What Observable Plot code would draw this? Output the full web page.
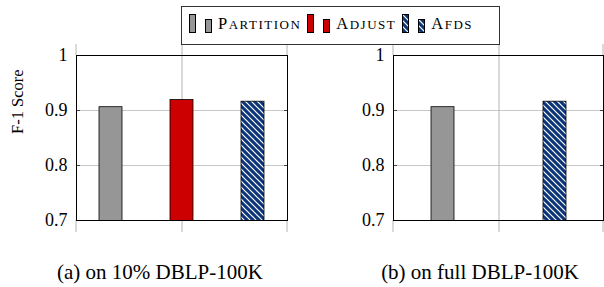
<!DOCTYPE html>
<html><head><meta charset="utf-8">
<script src="https://cdn.jsdelivr.net/npm/d3@7"></script>
<script src="https://cdn.jsdelivr.net/npm/@observablehq/plot@0.6"></script>
<style>
body{margin:0;background:#fff;}
#wrap{position:relative;width:604px;height:287px;overflow:hidden;font-family:"Liberation Serif",serif;background:#fff;}
.panel{position:absolute;top:0;}
#legend{position:absolute;left:181px;top:6px;width:319px;height:39px;box-sizing:border-box;border:1px solid #333;background:#fff;z-index:2;display:flex;align-items:flex-end;padding:0 0 11px 7px;}
.sw{display:block;margin-right:9px;}
.lab{font-family:"Liberation Serif",serif;line-height:16px;letter-spacing:1.5px;margin-right:6px;color:#000;white-space:nowrap;}
.lab .big{font-size:16.5px;}
.lab .small{font-size:13px;}
.cap{position:absolute;top:262px;width:320px;text-align:center;font-family:"Liberation Serif",serif;font-size:21px;line-height:21px;color:#000;}
</style></head><body>
<svg width="0" height="0" style="position:absolute"><defs>
<pattern id="afds" patternUnits="userSpaceOnUse" width="6" height="6">
<rect width="6" height="6" fill="#0b3479"/>
<path d="M-1,-1 L7,7 M-1,5 L1,7 M5,-1 L7,1" stroke="#fff" stroke-width="1.2"/>
</pattern></defs></svg>
<div id="wrap"></div>
<script>
const methods = ["Partition", "Adjust", "Afds"];
const valuesA = [0.906, 0.919, 0.916];
const valuesB = [0.906, null, 0.916];
const yTicks = [0.7, 0.8, 0.9, 1];
const fills = ["#969696", "#cc0000", "url(#afds)"];
const yLabel = "F-1 Score";
const captions = ["(a) on 10% DBLP-100K", "(b) on full DBLP-100K"];

const wrap = document.getElementById("wrap");

function edgeLines(index, scales, values, dims) {
  const g = d3.create("svg:g").attr("stroke", "#b4b4b4");
  for (const x of [dims.marginLeft, dims.width - dims.marginRight]) {
    g.append("line").attr("x1", x).attr("x2", x).attr("y1", dims.marginTop - 11).attr("y2", dims.marginTop);
    g.append("line").attr("x1", x).attr("x2", x).attr("y1", dims.height - dims.marginBottom).attr("y2", dims.height - dims.marginBottom + 12);
  }
  return g.node();
}

function panel(values, opts) {
  const data = methods.map((m, i) => ({method: m, value: values[i]})).filter(d => d.value != null);
  return Plot.plot({
    width: opts.width, height: 245,
    marginTop: 55, marginBottom: 25, marginLeft: opts.marginLeft, marginRight: opts.marginRight,
    style: {background: "transparent", overflow: "visible"},
    x: {domain: methods, paddingInner: opts.padIn, paddingOuter: opts.padOut, axis: null},
    y: {domain: [yTicks[0], yTicks[yTicks.length - 1]], label: null},
    color: {domain: methods, range: fills},
    marks: [
      Plot.gridY(yTicks.slice(1, -1), {stroke: "#c8c8c8", strokeOpacity: 1}),
      Plot.ruleX(["Adjust"], {stroke: "#b4b4b4", insetTop: -11, insetBottom: -12}),
      edgeLines,
      Plot.barY(data, {x: "method", y: "value", fill: "method", stroke: "#000", strokeWidth: 0.8, clip: true}),
      Plot.text(yTicks, {y: d => d, text: d => String(d), frameAnchor: "left", textAnchor: "end", dx: -9, fontFamily: "Liberation Serif", fontSize: 18, fill: "#000"}),
      Plot.axisY(yTicks, {anchor: "left", tickSize: -4, tickFormat: () => "", stroke: "#444", label: null}),
      Plot.axisY(yTicks, {anchor: "right", tickSize: -4, tickFormat: () => "", stroke: "#444", label: null}),
      Plot.frame({stroke: "#000"}),
      opts.ylabel ? Plot.text([opts.ylabel], {frameAnchor: "left", rotate: -90, dx: -59, dy: -4, fontFamily: "Liberation Serif", fontSize: 16.5, fill: "#000"}) : null
    ]
  });
}

const left = panel(valuesA, {width: 300, marginLeft: 76, marginRight: 13, padIn: 0.681, padOut: 0.306, ylabel: yLabel});
left.classList.add("panel"); left.style.left = "0px";
wrap.appendChild(left);
const right = panel(valuesB, {width: 304, marginLeft: 93, marginRight: 1, padIn: 0.593, padOut: 0.655});
right.classList.add("panel"); right.style.left = "300px";
wrap.appendChild(right);

// legend
const legend = d3.select(wrap).append("div").attr("id", "legend");
methods.forEach((m, i) => {
  for (const h of [19, 14]) {
    const s = legend.append("svg").attr("class", "sw").attr("width", 7).attr("height", h);
    s.append("rect").attr("x", 0.5).attr("y", 0.5).attr("width", 6).attr("height", h - 1)
      .attr("fill", fills[i]).attr("stroke", "#000").attr("stroke-width", 1);
  }
  const lab = legend.append("span").attr("class", "lab");
  lab.append("span").attr("class", "big").text(m[0].toUpperCase());
  lab.append("span").attr("class", "small").text(m.slice(1).toUpperCase());
});
legend.selectAll(".sw").filter((d, i) => i % 2 === 1).style("margin-right", "6px");

captions.forEach((c, i) => {
  d3.select(wrap).append("div").attr("class", "cap").style("left", (i * 320) + "px").text(c);
});
</script>
</body></html>
